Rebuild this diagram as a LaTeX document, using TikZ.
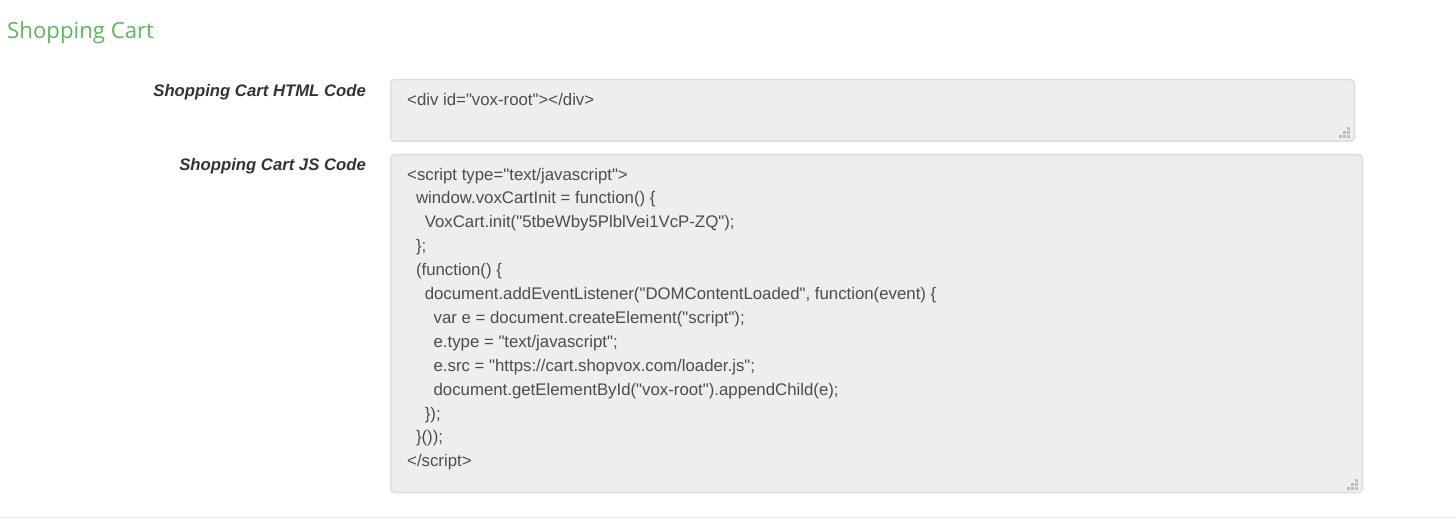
\documentclass[tikz,border=0pt]{standalone}
\usepackage{fontspec}
\newfontfamily\codefont{Liberation Sans}
\newfontfamily\titlefont{Open Sans}
\definecolor{titlegreen}{HTML}{5CB85C}
\definecolor{labelcol}{HTML}{333333}
\definecolor{codecol}{HTML}{4D4D4D}
\definecolor{boxfill}{HTML}{EEEEEE}
\definecolor{boxline}{HTML}{DDDDDD}
\definecolor{handlecol}{HTML}{BBBBBB}
\definecolor{rulecol}{HTML}{E5E5E5}
\tikzset{
  fieldlabel/.style={anchor=base east, inner sep=0pt, text=labelcol, font=\codefont\fontsize{16.7}{20}\selectfont\bfseries\itshape},
  codeline/.style={anchor=base west, inner sep=0pt, text=codecol, font=\codefont\fontsize{16.8}{20}\selectfont},
  codebox/.style={draw=boxline, line width=1.5pt, fill=boxfill, rounded corners=4pt},
}
\newcommand{\resizehandle}[2]{%
  \foreach \ci/\rj in {0/0,1/0,2/0,0/1,1/1,0/2}{%
    \fill[handlecol] ({#1-4*\ci-3},{#2-4*\rj-3}) rectangle ({#1-4*\ci},{#2-4*\rj});
  }%
}
\begin{document}
\begin{tikzpicture}[x=1pt,y=-1pt]
\useasboundingbox[fill=white] (0,0) rectangle (1456,519);
\node[anchor=base west, inner sep=0pt, text=titlegreen, font=\titlefont\fontsize{22.2}{26}\selectfont] (title) at (7,38.5) {Shopping Cart};

\node[fieldlabel] (lblhtml) at (366,96.5) {Shopping Cart HTML Code};
\node[fieldlabel] (lbljs) at (366,170.5) {Shopping Cart JS Code};

\draw[codebox] (390.5,79.5) rectangle (1354.5,141);
\node[codeline] (html) at (407,105) {<div id="vox-root"></div>};
\resizehandle{1350}{138}

\draw[codebox] (390.5,154.5) rectangle (1362.5,492.5);
\resizehandle{1358}{490}

\foreach \k/\ind/\txt in {
 0/0/{<script type="text/javascript">},
 1/2/{window.voxCartInit = function() \{},
 2/4/{VoxCart.init("5tbeWby5PlblVei1VcP-ZQ");},
 3/2/{\};},
 4/2/{(function() \{},
 5/4/{document.addEventListener("DOMContentLoaded", function(event) \{},
 6/6/{var e = document.createElement("script");},
 7/6/{e.type = "text/javascript";},
 8/6/{e.src = "https://cart.shopvox.com/loader.js";},
 9/6/{document.getElementById("vox-root").appendChild(e);},
 10/4/{\});},
 11/2/{\}());},
 12/0/{</script>}}{
  \node[codeline] (js\k) at ({407+4.4*\ind},{180+23.9*\k}) {\txt};
}

\draw[rulecol, line width=1pt] (0,517.5) -- (1456,517.5);
\end{tikzpicture}
\end{document}
